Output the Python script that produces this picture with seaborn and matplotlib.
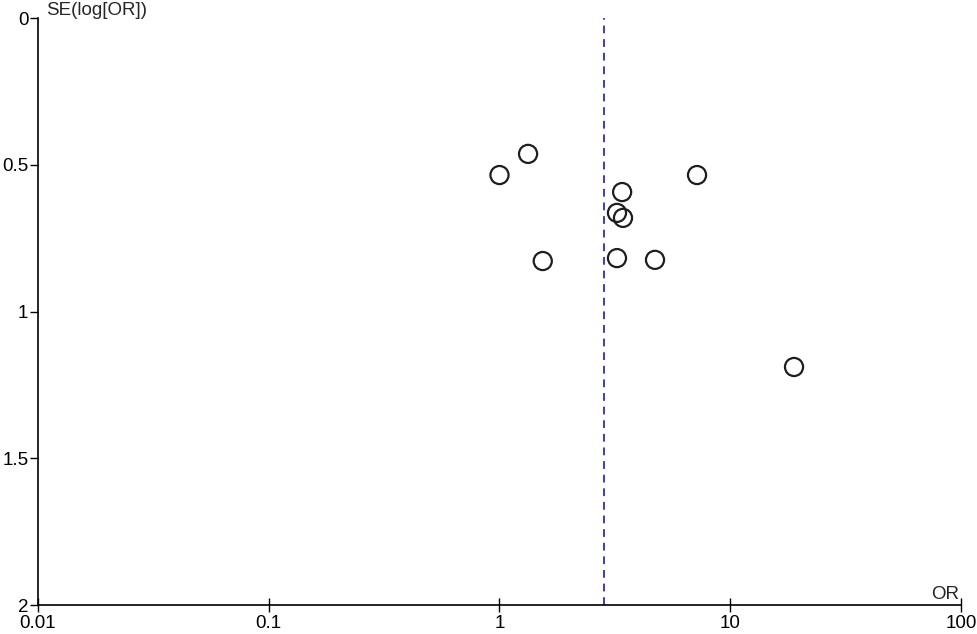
import matplotlib
matplotlib.use("Agg")
import numpy as np
import pandas as pd
import seaborn as sns
from matplotlib import pyplot as plt

# study estimates
odds_ratio = [1.00, 1.33, 1.54, 3.40, 3.23, 3.43, 3.23, 4.72, 7.18, 18.9]
se_log_or = [0.535, 0.463, 0.828, 0.593, 0.664, 0.681, 0.818, 0.824, 0.535, 1.189]
pooled_or = 2.85

x_ticks = [0.01, 0.1, 1, 10, 100]
x_labels = ["0.01", "0.1", "1", "10", "100"]
y_ticks = [0, 0.5, 1, 1.5, 2]
y_labels = ["0", "0.5", "1", "1.5", "2"]

df = pd.DataFrame({"OR": odds_ratio, "SE": se_log_or})

sns.set_style("ticks")
plt.rcParams["font.family"] = ["Liberation Sans", "DejaVu Sans"]

fig = plt.figure(figsize=(9.77, 6.34), dpi=100)
ax = fig.add_axes([0.0389, 0.0457, 0.9447, 0.9259])

ax.axvline(pooled_or, color="#3a3ad0", linestyle=(0, (4, 3)), linewidth=1.4, zorder=1)
sns.scatterplot(ax=ax, data=df, x="OR", y="SE", s=170, marker="o",
                facecolor="none", edgecolor="#1e1e1e", linewidth=1.6, zorder=3)

ax.set_xscale("log")
ax.set_xlim(0.01, 100)
ax.set_ylim(2, 0)
ax.set_xticks(x_ticks)
ax.set_xticklabels(x_labels)
ax.set_yticks(y_ticks)
ax.set_yticklabels(y_labels)
ax.minorticks_off()
ax.tick_params(axis="x", direction="inout", length=10, width=1, labelsize=13.5, pad=2, colors="black")
ax.tick_params(axis="y", direction="out", length=6, width=1, labelsize=13.5, pad=1, colors="black")
ax.set_xlabel("")
ax.set_ylabel("")

for side in ["top", "right"]:
    ax.spines[side].set_visible(False)
for side in ["left", "bottom"]:
    ax.spines[side].set_linewidth(1.2)
    ax.spines[side].set_color("black")

ax.text(0.009, 0.998, "SE(log[OR])", transform=ax.transAxes, fontsize=13.5, ha="left", va="bottom")
ax.text(0.998, 0.004, "OR", transform=ax.transAxes, fontsize=13.5, ha="right", va="bottom")

fig.savefig("out.png", dpi=100)
